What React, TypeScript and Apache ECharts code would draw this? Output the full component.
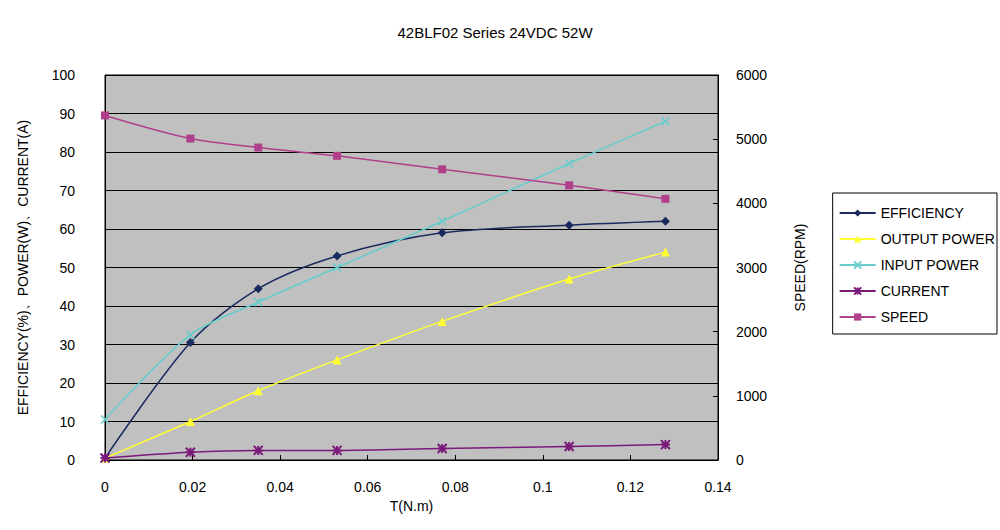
import React, { useEffect, useRef } from "react";
import * as echarts from "echarts";

const torque = [0, 0.0195, 0.035, 0.053, 0.077, 0.106, 0.128];
const efficiency = [0.5, 30.5, 44.5, 53, 59, 61, 62];
const outputPower = [0.5, 10, 18, 26, 36, 47, 54];
const inputPower = [10.5, 32.5, 41, 50, 62, 77, 88];
const current = [0.5, 2, 2.5, 2.5, 3, 3.5, 4];
const speed = [5370, 5010, 4870, 4740, 4530, 4280, 4070];

const pairs = (ys: number[]) => ys.map((y, i) => [torque[i], y]);

export default function App() {
  const ref = useRef<HTMLDivElement>(null);
  useEffect(() => {
    const chart = echarts.init(ref.current!, null, { renderer: "svg" });
    const font = "Liberation Sans, Arial, sans-serif";
    const mk = (name: string, data: number[], color: string, symbol: string, size: number, yAxisIndex = 0) => ({
      name, type: "line", data: pairs(data), yAxisIndex, smooth: 0.3,
      symbol, symbolSize: size, showSymbol: true,
      lineStyle: { color, width: 1.5 }, itemStyle: { color },
    });
    const cross = "path://M0,0L10,10M10,0L0,10";
    const star = "path://M5,0L5,10M0,0L10,10M10,0L0,10M0,5L10,5";
    chart.setOption({
      animation: false,
      backgroundColor: "#fff",
      textStyle: { fontFamily: font },
      title: { text: "42BLF02 Series 24VDC 52W", left: 490, top: 20, textAlign: "center",
        textStyle: { fontSize: 15, fontWeight: "normal", color: "#000", fontFamily: font } },
      grid: { left: 105, right: 282, top: 75, bottom: 70, show: true, backgroundColor: "#c0c0c0", borderColor: "#000", borderWidth: 1 },
      legend: {
        orient: "vertical", right: 3, top: 193, backgroundColor: "#fff", borderColor: "#000", borderWidth: 1,
        padding: [13, 2, 10, 6], itemGap: 12, itemWidth: 36, itemHeight: 9,
        textStyle: { fontSize: 14, color: "#000", fontFamily: font },
        data: ["EFFICIENCY", "OUTPUT POWER", "INPUT POWER", "CURRENT", "SPEED"],
      },
      xAxis: {
        type: "value", min: 0, max: 0.14, interval: 0.02,
        name: "T(N.m)", nameLocation: "middle", nameGap: 28,
        nameTextStyle: { fontSize: 14, color: "#000" },
        axisLine: { lineStyle: { color: "#000" } }, axisTick: { show: true, inside: true, lineStyle: { color: "#000" } },
        axisLabel: { fontSize: 14, color: "#000", margin: 20, formatter: (v: number) => String(+v.toFixed(2)) },
        splitLine: { show: false },
      },
      yAxis: [
        { type: "value", min: 0, max: 100, interval: 10,
          name: "EFFICIENCY(%)、POWER(W)、CURRENT(A)", nameLocation: "middle", nameGap: 75,
          nameTextStyle: { fontSize: 14, color: "#000" },
          axisLine: { show: true, lineStyle: { color: "#000" } }, axisTick: { show: true, inside: true, lineStyle: { color: "#000" } },
          axisLabel: { fontSize: 14, color: "#000", margin: 30 },
          splitLine: { show: true, lineStyle: { color: "#000", width: 1 } } },
        { type: "value", min: 0, max: 6000, interval: 1000,
          name: "SPEED(RPM)", nameLocation: "middle", nameGap: 75,
          nameTextStyle: { fontSize: 14, color: "#000" },
          axisLine: { show: true, lineStyle: { color: "#000" } }, axisTick: { show: true, inside: true, lineStyle: { color: "#000" } },
          axisLabel: { fontSize: 14, color: "#000", margin: 18, formatter: (v: number) => String(v) },
          splitLine: { show: false } },
      ],
      series: [
        mk("EFFICIENCY", efficiency, "#1a2a5e", "diamond", 9),
        mk("OUTPUT POWER", outputPower, "#ffff33", "triangle", 9),
        { ...mk("INPUT POWER", inputPower, "#66cccc", cross, 8), itemStyle: { color: "none", borderColor: "#66cccc", borderWidth: 1.5 } },
        { ...mk("CURRENT", current, "#7a1a7a", star, 9), itemStyle: { color: "none", borderColor: "#7a1a7a", borderWidth: 2 } },
        mk("SPEED", speed, "#b0408a", "rect", 8, 1),
      ],
    });
    return () => chart.dispose();
  }, []);
  return <div ref={ref} style={{ width: 1000, height: 530, position: "absolute", left: 0, top: 0 }} />;
}
